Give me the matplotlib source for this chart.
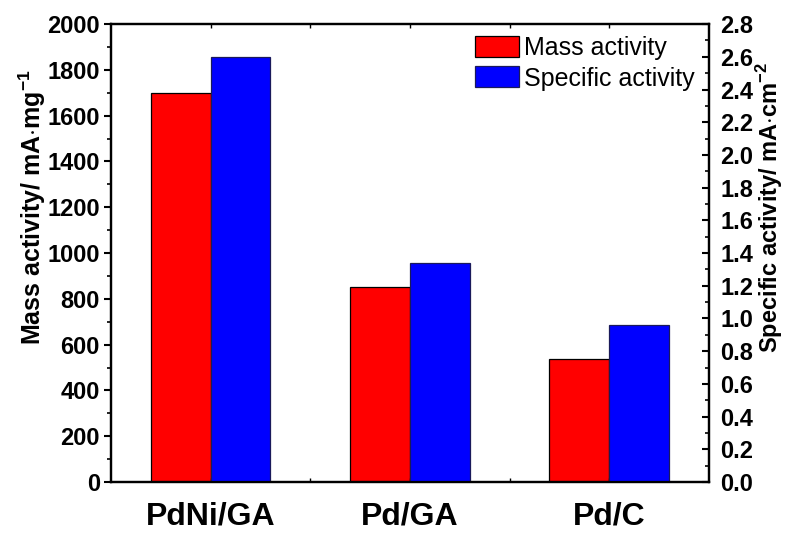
import numpy as np
import matplotlib
matplotlib.use("Agg")
import matplotlib.pyplot as plt
from matplotlib.ticker import MultipleLocator, FixedLocator

# данные
catalysts = ['PdNi/GA', 'Pd/GA', 'Pd/C']
mass_activity = [1700, 850, 537]          # mA·mg^-1
specific_activity = [2.60, 1.34, 0.958]   # mA·cm^-2

plt.rcParams['font.family'] = ['Liberation Sans', 'DejaVu Sans']
plt.rcParams['mathtext.fontset'] = 'custom'
plt.rcParams['mathtext.rm'] = 'Liberation Sans:bold'
plt.rcParams['mathtext.bf'] = 'Liberation Sans:bold'

fig = plt.figure(figsize=(7.93, 5.33), dpi=100)
ax = fig.add_axes([0.140, 0.0957, 0.754, 0.859])
ax2 = ax.twinx()

x = np.arange(1, len(catalysts) + 1)
w = 0.3

b1 = ax.bar(x - w / 2, mass_activity, w, color='#ff0000', edgecolor='black',
            linewidth=0.9, label='Mass activity')
b2 = ax2.bar(x + w / 2, specific_activity, w, color='#0000ff', edgecolor='#1a1a5a',
             linewidth=0.9, label='Specific activity')

ax.set_xlim(0.5, 3.5)
ax.set_ylim(0, 2000)
ax2.set_ylim(0, 2.8)

ax.set_xticks(x)
ax.set_xticklabels(catalysts, fontsize=23, fontweight='bold')
ax.xaxis.set_minor_locator(FixedLocator([1.5, 2.5]))
ax.tick_params(axis='x', which='both', direction='in', length=3, width=1,
               top=True, pad=14)

ax.yaxis.set_major_locator(MultipleLocator(200))
ax.yaxis.set_minor_locator(MultipleLocator(100))
ax.tick_params(axis='y', which='major', direction='out', length=5, width=1.5,
               labelsize=17, pad=3)
ax.tick_params(axis='y', which='minor', direction='out', length=3, width=1.2)
for t in ax.get_yticklabels():
    t.set_fontweight('bold')

ax2.yaxis.set_major_locator(MultipleLocator(0.2))
ax2.yaxis.set_minor_locator(MultipleLocator(0.1))
ax2.yaxis.set_major_formatter(plt.FormatStrFormatter('%.1f'))
ax2.tick_params(axis='y', which='major', direction='in', length=5, width=1.5,
                labelsize=17, pad=8)
ax2.tick_params(axis='y', which='minor', direction='in', length=3, width=1.2)
for t in ax2.get_yticklabels():
    t.set_fontweight('bold')

for a in (ax, ax2):
    for s in a.spines.values():
        s.set_linewidth(1.6)

ax.set_ylabel(r'Mass activity/ mA$\cdot$mg$^{-1}$', fontsize=18, fontweight='bold')
ax.yaxis.set_label_coords(-0.105, 0.6)
ax2.set_ylabel(r'Specific activity/ mA$\cdot$cm$^{-2}$', fontsize=17,
               fontweight='bold')
ax2.yaxis.set_label_coords(1.075, 0.6)

ax.legend([b1, b2], ['Mass activity', 'Specific activity'], loc='upper right',
          bbox_to_anchor=(0.985, 0.985), frameon=False, fontsize=18,
          handlelength=1.76, handleheight=0.92, handletextpad=0.2,
          labelspacing=0.25, borderaxespad=0.0, borderpad=0.2)

fig.savefig('out.png', dpi=100)
